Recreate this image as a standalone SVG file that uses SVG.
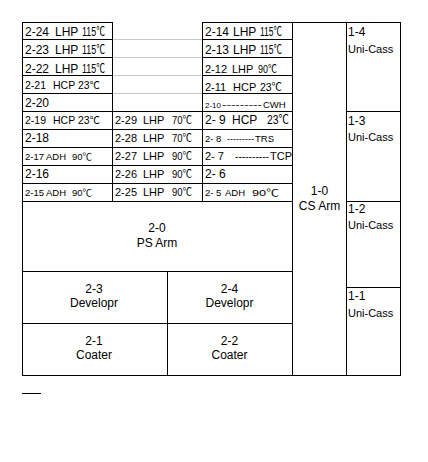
<svg xmlns="http://www.w3.org/2000/svg" width="428" height="462" viewBox="0 0 428 462">
<style>
.b{fill:#fff;stroke:#000;stroke-width:1}
.g{stroke:#c8c8c8;stroke-width:1;fill:none}
.k{stroke:#000;stroke-width:1;fill:none}
text{font-family:"Liberation Sans",Arial,"Noto Sans CJK SC",sans-serif;fill:#000}
.s12{font-size:12px}.s11{font-size:11px}.s10{font-size:10.5px}.s9{font-size:9.5px}.s8{font-size:8px}
.c{text-anchor:middle;font-size:12px}
</style>
<rect x="0" y="0" width="428" height="462" fill="#fff"/>
<g id="lines">
<line class="g" x1="112" y1="39.5" x2="202" y2="39.5"/>
<line class="g" x1="112" y1="57.5" x2="202" y2="57.5"/>
<line class="g" x1="112" y1="75.5" x2="202" y2="75.5"/>
<line class="g" x1="112" y1="93.5" x2="202" y2="93.5"/>
<line class="k" x1="22" y1="393.5" x2="41" y2="393.5"/>
</g>
<!-- left column top -->
<g id="n2-24"><rect class="b" x="22.5" y="22.5" width="90" height="17"/><text class="s12" y="36"><tspan x="25">2-24 </tspan><tspan x="55">LHP </tspan><tspan x="82" textLength="23" lengthAdjust="spacingAndGlyphs">115℃</tspan></text></g>
<g id="n2-23"><rect class="b" x="22.5" y="39.5" width="90" height="18"/><text class="s12" y="54"><tspan x="25">2-23 </tspan><tspan x="55">LHP </tspan><tspan x="82" textLength="23" lengthAdjust="spacingAndGlyphs">115℃</tspan></text></g>
<g id="n2-22"><rect class="b" x="22.5" y="57.5" width="90" height="18"/><text class="s12" y="72.5"><tspan x="25">2-22 </tspan><tspan x="55">LHP </tspan><tspan x="82" textLength="23" lengthAdjust="spacingAndGlyphs">115℃</tspan></text></g>
<g id="n2-21"><rect class="b" x="22.5" y="75.5" width="90" height="18"/><text class="s10" y="89"><tspan x="25">2-21 </tspan><tspan x="53">HCP </tspan><tspan x="78" textLength="22" lengthAdjust="spacingAndGlyphs">23℃</tspan></text></g>
<g id="n2-20"><rect class="b" x="22.5" y="93.5" width="90" height="18"/><text class="s12" x="25" y="107">2-20</text></g>
<!-- left column lower -->
<g id="n2-19"><rect class="b" x="22.5" y="111.5" width="90" height="18"/><text class="s10" y="123.5"><tspan x="25">2-19 </tspan><tspan x="53">HCP </tspan><tspan x="78" textLength="22" lengthAdjust="spacingAndGlyphs">23℃</tspan></text></g>
<g id="n2-18"><rect class="b" x="22.5" y="129.5" width="90" height="18"/><text class="s12" x="25" y="142">2-18</text></g>
<g id="n2-17"><rect class="b" x="22.5" y="147.5" width="90" height="18"/><text class="s9" y="160"><tspan x="25">2-17 </tspan><tspan x="46">ADH </tspan><tspan x="72" textLength="20" lengthAdjust="spacingAndGlyphs">90℃</tspan></text></g>
<g id="n2-16"><rect class="b" x="22.5" y="165.5" width="90" height="18"/><text class="s12" x="25" y="178">2-16</text></g>
<g id="n2-15"><rect class="b" x="22.5" y="183.5" width="90" height="18"/><text class="s9" y="196"><tspan x="25">2-15 </tspan><tspan x="46">ADH </tspan><tspan x="72" textLength="20" lengthAdjust="spacingAndGlyphs">90℃</tspan></text></g>
<!-- middle column -->
<g id="n2-29"><rect class="b" x="112.5" y="111.5" width="90" height="18"/><text class="s11" y="124"><tspan x="115">2-29 </tspan><tspan x="143">LHP </tspan><tspan x="172" textLength="20" lengthAdjust="spacingAndGlyphs">70℃</tspan></text></g>
<g id="n2-28"><rect class="b" x="112.5" y="129.5" width="90" height="18"/><text class="s11" y="142"><tspan x="115">2-28 </tspan><tspan x="143">LHP </tspan><tspan x="172" textLength="20" lengthAdjust="spacingAndGlyphs">70℃</tspan></text></g>
<g id="n2-27"><rect class="b" x="112.5" y="147.5" width="90" height="18"/><text class="s11" y="160"><tspan x="115">2-27 </tspan><tspan x="143">LHP </tspan><tspan x="172" textLength="20" lengthAdjust="spacingAndGlyphs">90℃</tspan></text></g>
<g id="n2-26"><rect class="b" x="112.5" y="165.5" width="90" height="18"/><text class="s11" y="178"><tspan x="115">2-26 </tspan><tspan x="143">LHP </tspan><tspan x="172" textLength="20" lengthAdjust="spacingAndGlyphs">90℃</tspan></text></g>
<g id="n2-25"><rect class="b" x="112.5" y="183.5" width="90" height="18"/><text class="s11" y="196"><tspan x="115">2-25 </tspan><tspan x="143">LHP </tspan><tspan x="172" textLength="20" lengthAdjust="spacingAndGlyphs">90℃</tspan></text></g>
<!-- right column top -->
<g id="n2-14"><rect class="b" x="202.5" y="22.5" width="90" height="17"/><text class="s12" y="36"><tspan x="205">2-14 </tspan><tspan x="233">LHP </tspan><tspan x="260" textLength="22" lengthAdjust="spacingAndGlyphs">115℃</tspan></text></g>
<g id="n2-13"><rect class="b" x="202.5" y="39.5" width="90" height="18"/><text class="s12" y="54"><tspan x="205">2-13 </tspan><tspan x="233">LHP </tspan><tspan x="260" textLength="22" lengthAdjust="spacingAndGlyphs">115℃</tspan></text></g>
<g id="n2-12"><rect class="b" x="202.5" y="57.5" width="90" height="18"/><text class="s11" y="72.5"><tspan x="205">2-12 </tspan><tspan x="232">LHP </tspan><tspan x="258" textLength="19" lengthAdjust="spacingAndGlyphs">90℃</tspan></text></g>
<g id="n2-11"><rect class="b" x="202.5" y="75.5" width="90" height="18"/><text class="s11" y="90.5"><tspan x="205">2-11 </tspan><tspan x="233">HCP </tspan><tspan x="260" textLength="22" lengthAdjust="spacingAndGlyphs">23℃</tspan></text></g>
<g id="n2-10"><rect class="b" x="202.5" y="93.5" width="90" height="18"/><text y="107.5"><tspan class="s8" x="205">2-10 </tspan><tspan class="s9" x="222" textLength="40" lengthAdjust="spacingAndGlyphs">---------</tspan><tspan class="s9" x="263">CWH</tspan></text></g>
<!-- right column lower -->
<g id="n2-9"><rect class="b" x="202.5" y="111.5" width="90" height="18"/><text class="s12" y="123.5"><tspan x="205">2- 9 </tspan><tspan x="232">HCP </tspan><tspan x="267" textLength="22" lengthAdjust="spacingAndGlyphs">23℃</tspan></text></g>
<g id="n2-8"><rect class="b" x="202.5" y="129.5" width="90" height="18"/><text class="s9" y="141.5"><tspan x="205">2- 8 </tspan><tspan x="227" textLength="27" lengthAdjust="spacingAndGlyphs">---------</tspan><tspan x="255">TRS</tspan></text></g>
<g id="n2-7"><rect class="b" x="202.5" y="147.5" width="90" height="18"/><text class="s11" y="159.5"><tspan x="205">2- 7   </tspan><tspan x="235" textLength="34" lengthAdjust="spacingAndGlyphs">----------</tspan><tspan x="270">TCP</tspan></text></g>
<g id="n2-6"><rect class="b" x="202.5" y="165.5" width="90" height="18"/><text class="s12" x="205" y="178">2- 6</text></g>
<g id="n2-5"><rect class="b" x="202.5" y="183.5" width="90" height="18"/><text class="s9" y="196"><tspan x="205">2- 5 </tspan><tspan x="225">ADH </tspan><tspan x="252" textLength="27" lengthAdjust="spacingAndGlyphs">90℃</tspan></text></g>
<!-- big boxes -->
<g id="n2-0"><rect class="b" x="22.5" y="201.5" width="270" height="70"/><text class="c" x="157" y="232">2-0</text><text class="c" x="157" y="247">PS Arm</text></g>
<g id="n2-3"><rect class="b" x="22.5" y="271.5" width="145" height="52"/><text class="c" x="94" y="293">2-3</text><text class="c" x="94" y="307">Developr</text></g>
<g id="n2-4"><rect class="b" x="167.5" y="271.5" width="125" height="52"/><text class="c" x="229.5" y="293">2-4</text><text class="c" x="229.5" y="307">Developr</text></g>
<g id="n2-1"><rect class="b" x="22.5" y="323.5" width="145" height="52"/><text class="c" x="94" y="345">2-1</text><text class="c" x="94" y="359">Coater</text></g>
<g id="n2-2"><rect class="b" x="167.5" y="323.5" width="125" height="52"/><text class="c" x="229.5" y="345">2-2</text><text class="c" x="229.5" y="359">Coater</text></g>
<g id="n1-0"><rect class="b" x="292.5" y="22.5" width="54" height="353"/><text class="c" x="319.5" y="195">1-0</text><text class="c" x="319.5" y="210">CS Arm</text></g>
<!-- Uni-Cass -->
<g id="n1-4"><rect class="b" x="346.5" y="22.5" width="54" height="89"/><text class="s12" x="348" y="36">1-4</text><text class="s11" x="348" y="53">Uni-Cass</text></g>
<g id="n1-3"><rect class="b" x="346.5" y="111.5" width="54" height="90"/><text class="s12" x="348" y="125">1-3</text><text class="s11" x="348" y="141">Uni-Cass</text></g>
<g id="n1-2"><rect class="b" x="346.5" y="201.5" width="54" height="86"/><text class="s12" x="348" y="213">1-2</text><text class="s11" x="348" y="229">Uni-Cass</text></g>
<g id="n1-1"><rect class="b" x="346.5" y="287.5" width="54" height="88"/><text class="s12" x="348" y="300">1-1</text><text class="s11" x="348" y="317">Uni-Cass</text></g>
</svg>
